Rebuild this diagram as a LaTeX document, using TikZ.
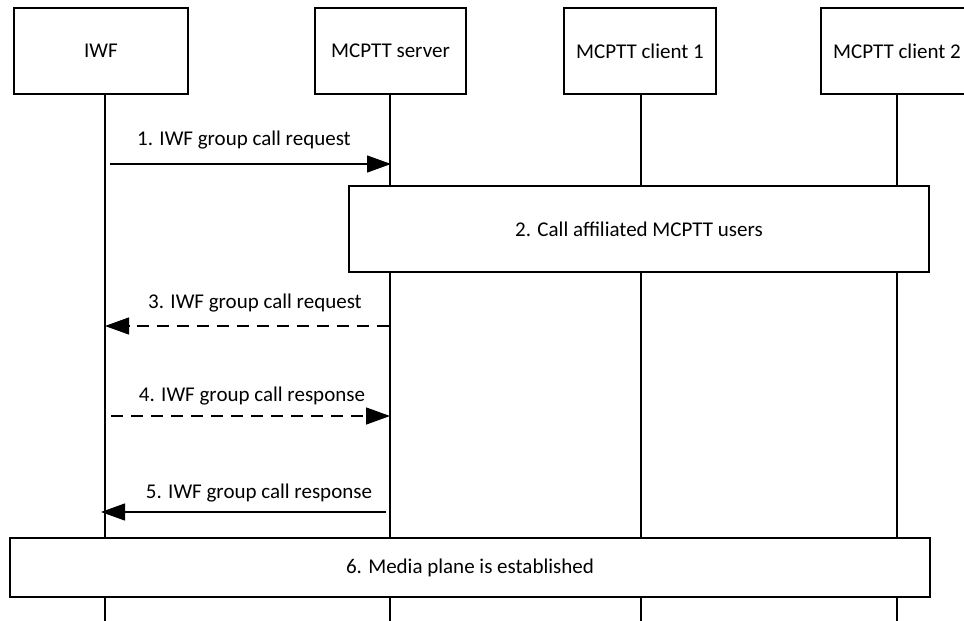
\documentclass[tikz,border=0pt]{standalone}
\usepackage{fontspec}
\setmainfont{Carlito}
\usetikzlibrary{arrows.meta}
\begin{document}
\begin{tikzpicture}[x=1pt,y=-1pt,
  every node/.style={font=\fontsize{21}{25}\selectfont},
  entity/.style={draw,line width=1.3pt,fill=white,minimum width=152pt,minimum height=86pt,inner sep=0pt},
  life/.style={line width=1.3pt},
  msg/.style={line width=1.3pt,-{Triangle[length=24pt,width=17pt]}},
  dmsg/.style={msg,dash pattern=on 12pt off 8pt},
  stepbox/.style={draw,line width=1.3pt,fill=white,inner sep=0pt}
]
\useasboundingbox (0,0) rectangle (964,621);
\fill[white] (0,0) rectangle (964,621);
% lifelines
\coordinate (lIWF) at (105,94);
\coordinate (lSRV) at (390,94);
\coordinate (lC1) at (641,94);
\coordinate (lC2) at (897,94);
\coordinate (eIWF) at (105,621);
\coordinate (eSRV) at (390,621);
\coordinate (eC1) at (641,621);
\coordinate (eC2) at (897,621);
\draw[life] (lIWF) -- (eIWF);
\draw[life] (lSRV) -- (eSRV);
\draw[life] (lC1) -- (eC1);
\draw[life] (lC2) -- (eC2);
% entities
\node[entity,minimum width=174pt] (iwf) at (101,51) {IWF};
\node[entity,minimum width=151pt] (srv) at (390.5,51) {MCPTT server};
\node[entity,minimum width=152pt] (c1) at (640,51) {MCPTT client 1};
\node[entity,minimum width=152pt] (c2) at (897,51) {MCPTT client 2};
% message 1
\coordinate (m1s) at (110,164);
\coordinate (m1e) at (391,164);
\draw[msg] (m1s) -- (m1e);
\node (t1) at (244,140) {1. IWF group call request};
% step 2
\node[stepbox,minimum width=580pt,minimum height=86pt] (s2) at (639,229) {2. Call affiliated MCPTT users};
% message 3
\coordinate (m3s) at (389,326);
\coordinate (m3e) at (105,326);
\draw[dmsg] (m3s) -- (m3e);
\node (t3) at (255,303) {3. IWF group call request};
% message 4
\coordinate (m4s) at (111,416);
\coordinate (m4e) at (390,416);
\draw[dmsg] (m4s) -- (m4e);
\node (t4) at (252,396) {4. IWF group call response};
% message 5
\coordinate (m5s) at (386,512);
\coordinate (m5e) at (101,512);
\draw[msg] (m5s) -- (m5e);
\node (t5) at (259,493) {5. IWF group call response};
% step 6
\node[stepbox,minimum width=920pt,minimum height=59pt] (s6) at (470,567.5) {6. Media plane is established};
\end{tikzpicture}
\end{document}
